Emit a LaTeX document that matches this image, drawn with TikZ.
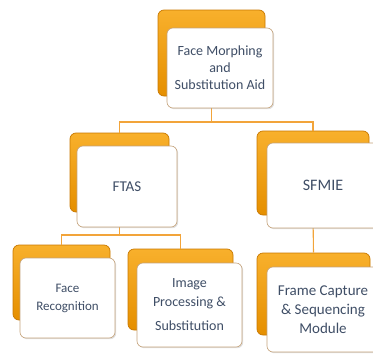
\documentclass[tikz,border=0pt]{standalone}
\usepackage{fontspec}
\setmainfont{Carlito}
\usetikzlibrary{shadows}
\definecolor{orgA}{HTML}{F8B02C}
\definecolor{orgB}{HTML}{E58F00}
\definecolor{orgEdge}{HTML}{C87800}
\definecolor{lineOrg}{HTML}{F2A43A}
\definecolor{txt}{HTML}{3F4E66}
\definecolor{boxEdge}{HTML}{C4A27A}
\tikzset{
  backbox/.style={rounded corners=6pt, top color=orgA, bottom color=orgB, draw=orgEdge, line width=0.7pt, inner sep=0pt},
  frontbox/.style={rounded corners=6pt, fill=white, draw=boxEdge, line width=0.6pt, inner sep=2pt,
     align=center, text=txt, font=\fontsize{14}{17}\selectfont,
     drop shadow={opacity=0.25, shadow xshift=1.2pt, shadow yshift=-1.2pt}},
  conn/.style={draw=lineOrg, line width=1.1pt}
}
\begin{document}
\begin{tikzpicture}[x=1pt,y=-1pt]
\useasboundingbox (0,0) rectangle (373,354);
% back boxes
\node[backbox, minimum width=107pt, minimum height=86pt] (topback) at (211.5,53) {};
\node[backbox, minimum width=99pt, minimum height=79pt] (ftasback) at (119.5,172.5) {};
\node[backbox, minimum width=112pt, minimum height=84pt] (sfmieback) at (313,173) {};
\node[backbox, minimum width=97pt, minimum height=75pt] (frback) at (61.5,282.5) {};
\node[backbox, minimum width=105pt, minimum height=81pt] (ipback) at (180.5,289.5) {};
\node[backbox, minimum width=113pt, minimum height=82pt] (fcback) at (313.5,294) {};
% connectors
\draw[conn] (topback.south) -- (topback.south |- 0,122) -| (ftasback.north);
\draw[conn] (topback.south) -- (topback.south |- 0,122) -| (sfmieback.north);
\draw[conn] (ftasback.south) -- (ftasback.south |- 0,235) -| (frback.north);
\draw[conn] (ftasback.south) -- (ftasback.south |- 0,235) -| (ipback.north);
\draw[conn] (sfmieback.south) -- (fcback.north);
% front boxes
\node[frontbox, minimum width=106pt, minimum height=80pt] (top) at (220,68) {Face Morphing\\and\\Substitution Aid};
\node[frontbox, minimum width=100pt, minimum height=81pt, font=\fontsize{15}{18}\selectfont] (ftas) at (127,186.5) {FTAS};
\node[frontbox, minimum width=112pt, minimum height=85pt, font=\fontsize{16}{18}\selectfont] (sfmie) at (323,185.5) {SFMIE};
\node[frontbox, minimum width=95pt, minimum height=80pt, font=\fontsize{13}{18}\selectfont] (fr) at (67.5,298) {Face\\Recognition};
\node[frontbox, minimum width=105pt, minimum height=84pt, font=\fontsize{14}{19}\selectfont] (ip) at (189.5,305) {Image\\Processing \&\\[5pt]Substitution};
\node[frontbox, minimum width=112pt, minimum height=85pt, font=\fontsize{15}{19}\selectfont] (fc) at (323,309.5) {Frame Capture\\\& Sequencing\\Module};
\end{tikzpicture}
\end{document}
